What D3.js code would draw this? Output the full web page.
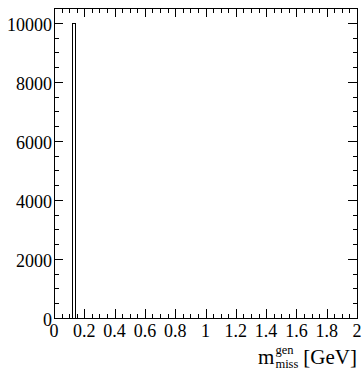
<!DOCTYPE html>
<html><head><meta charset="utf-8">
<script src="https://cdn.jsdelivr.net/npm/d3@7"></script>
<style>
html,body{margin:0;padding:0;background:#fff;}
svg{display:block;}
</style></head>
<body>
<svg id="c" width="363" height="369" font-family="'Liberation Serif', 'Times New Roman', Times, serif"></svg>
<script>
// Data
const binLow = [0.12];
const binHigh = [0.14];
const counts = [10000];
const xMajorTicks = [0, 0.2, 0.4, 0.6, 0.8, 1, 1.2, 1.4, 1.6, 1.8, 2];
const xTickLabels = ["0", "0.2", "0.4", "0.6", "0.8", "1", "1.2", "1.4", "1.6", "1.8", "2"];
const yMajorTicks = [0, 2000, 4000, 6000, 8000, 10000];
const yTickLabels = ["0", "2000", "4000", "6000", "8000", "10000"];
const xDomain = [0, 2];
const yDomain = [0, 10500];

const L = 54, R = 357, T = 8, B = 318;
const svg = d3.select("#c");
const x = d3.scaleLinear().domain(xDomain).range([L, R]);
const y = d3.scaleLinear().domain(yDomain).range([B, T]);

const xMinor = d3.range(0, 2.0001, 0.05).map(v => +v.toFixed(4)).filter(v => !xMajorTicks.some(m => Math.abs(m - v) < 1e-6));
const yMinor = d3.range(0, 10500.1, 500).filter(v => !yMajorTicks.includes(v));

const MAJ = 9, MIN = 4.5;

function axisLines(g, scale, majors, minors, orient) {
  const ticks = majors.map(v => ({v, len: MAJ})).concat(minors.map(v => ({v, len: MIN})));
  ticks.forEach(t => {
    const p = Math.round(scale(t.v)) + 0.5;
    if (orient === "bottom") g.append("line").attr("x1", p).attr("x2", p).attr("y1", B).attr("y2", B - t.len);
    if (orient === "top") g.append("line").attr("x1", p).attr("x2", p).attr("y1", T).attr("y2", T + t.len);
    if (orient === "left") g.append("line").attr("y1", p).attr("y2", p).attr("x1", L).attr("x2", L + t.len);
    if (orient === "right") g.append("line").attr("y1", p).attr("y2", p).attr("x1", R).attr("x2", R - t.len);
  });
}

const tg = svg.append("g").attr("stroke", "#000").attr("stroke-width", 1).attr("shape-rendering", "crispEdges");
axisLines(tg, x, xMajorTicks, xMinor, "bottom");
axisLines(tg, x, xMajorTicks, xMinor, "top");
axisLines(tg, y, yMajorTicks, yMinor, "left");
axisLines(tg, y, yMajorTicks, yMinor, "right");

// histogram outline
const hist = svg.append("g").attr("fill", "none").attr("stroke", "#000").attr("stroke-width", 1).attr("shape-rendering", "crispEdges");
counts.forEach((c, i) => {
  const x0 = Math.round(x(binLow[i])) + 0.5, x1 = Math.round(x(binHigh[i])) + 0.5;
  const y0 = Math.round(y(0)) + 0.5, y1 = Math.round(y(c)) + 0.5;
  hist.append("path").attr("d", `M${x0},${y0}V${y1}H${x1}V${y0}`);
});

// frame
svg.append("rect").attr("x", L + 0.5).attr("y", T + 0.5).attr("width", R - L).attr("height", B - T)
  .attr("fill", "none").attr("stroke", "#000").attr("stroke-width", 1).attr("shape-rendering", "crispEdges");

// tick labels
const FS = 18;
svg.append("g").selectAll("text").data(xMajorTicks).join("text")
  .attr("x", d => x(d)).attr("y", 336.5).attr("text-anchor", "middle")
  .attr("font-size", FS).text((d, i) => xTickLabels[i]);
svg.append("g").selectAll("text").data(yMajorTicks).join("text")
  .attr("x", 52).attr("y", d => y(d) + 8.3).attr("text-anchor", "end")
  .attr("font-size", FS).text((d, i) => yTickLabels[i]);

// axis title: m^{gen}_{miss} [GeV]
const tt = svg.append("g");
const base = 364;
const mT = tt.append("text").attr("x", 0).attr("y", base).attr("font-size", 21).text("m");
const mW = mT.node().getComputedTextLength();
const sup = tt.append("text").attr("x", mW + 1).attr("y", base - 10).attr("font-size", 12.5).text("gen");
const sub = tt.append("text").attr("x", mW + 1).attr("y", base + 3.5).attr("font-size", 12.5).text("miss");
const sW = Math.max(sup.node().getComputedTextLength(), sub.node().getComputedTextLength());
const g2 = tt.append("text").attr("x", mW + 1 + sW + 5).attr("y", base).attr("font-size", 21).text("[GeV]");
const total = mW + 1 + sW + 5 + g2.node().getComputedTextLength();
tt.attr("transform", `translate(${357 - total},0)`);
</script>
</body></html>
